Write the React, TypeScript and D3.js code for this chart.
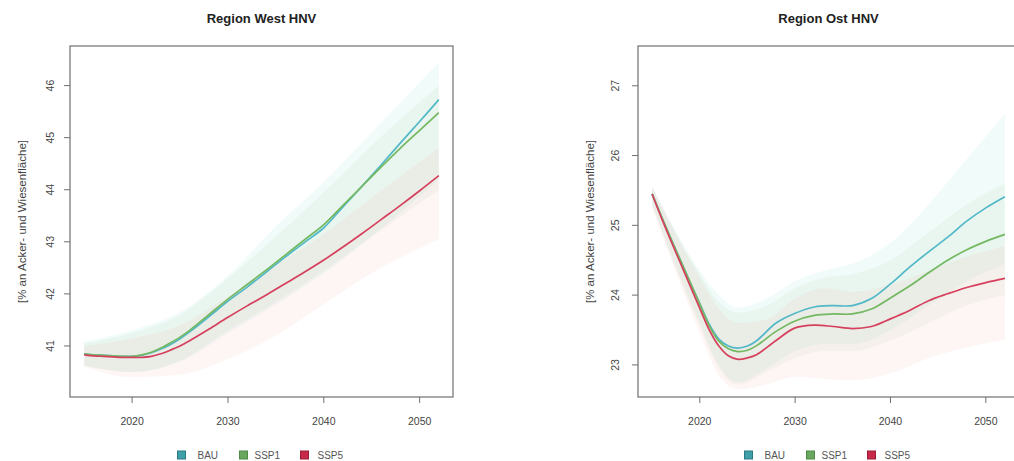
import React from "react";
import * as d3 from "d3";

// Years at which the scenario means are given
const years = [2015, 2016, 2017, 2018, 2019, 2020, 2021, 2022, 2023, 2024, 2025, 2026, 2028, 2030, 2032, 2034, 2036, 2038, 2040, 2042, 2044, 2046, 2048, 2050, 2052];

// Region West – mean share [%]
const westBAU = [40.85, 40.83, 40.82, 40.81, 40.8, 40.8, 40.82, 40.87, 40.94, 41.03, 41.14, 41.27, 41.56, 41.86, 42.13, 42.42, 42.71, 42.99, 43.27, 43.67, 44.07, 44.48, 44.9, 45.31, 45.73];
const westSSP1 = [40.85, 40.83, 40.82, 40.81, 40.8, 40.8, 40.83, 40.88, 40.96, 41.06, 41.17, 41.3, 41.6, 41.9, 42.18, 42.46, 42.75, 43.04, 43.33, 43.7, 44.07, 44.44, 44.8, 45.14, 45.48];
const westSSP5 = [40.83, 40.81, 40.8, 40.79, 40.78, 40.78, 40.78, 40.8, 40.85, 40.92, 41.0, 41.1, 41.32, 41.55, 41.77, 41.98, 42.2, 42.42, 42.65, 42.9, 43.16, 43.43, 43.7, 43.98, 44.27];

// Region Ost – mean share [%]
const ostBAU = [25.45, 25.12, 24.8, 24.49, 24.18, 23.88, 23.58, 23.37, 23.27, 23.24, 23.27, 23.35, 23.6, 23.74, 23.83, 23.85, 23.85, 23.95, 24.16, 24.4, 24.62, 24.83, 25.06, 25.25, 25.41];
const ostSSP1 = [25.45, 25.12, 24.8, 24.49, 24.18, 23.87, 23.56, 23.34, 23.23, 23.19, 23.21, 23.28, 23.48, 23.63, 23.71, 23.73, 23.73, 23.8, 23.96, 24.13, 24.32, 24.5, 24.65, 24.77, 24.87];
const ostSSP5 = [25.45, 25.1, 24.77, 24.45, 24.13, 23.81, 23.5, 23.27, 23.13, 23.08, 23.1, 23.15, 23.35, 23.53, 23.57, 23.55, 23.52, 23.55, 23.66, 23.78, 23.92, 24.02, 24.11, 24.18, 24.24];

// Uncertainty bands, Region West
const westBandYears = [2015, 2020, 2025, 2030, 2035, 2040, 2045, 2052];
const westBAULow = [40.62, 40.5, 40.7, 41.25, 41.8, 42.4, 43.1, 44.2];
const westBAUHigh = [41.08, 41.3, 41.65, 42.35, 43.3, 44.15, 45.1, 46.45];
const westSSP1Low = [40.62, 40.5, 40.72, 41.3, 41.85, 42.45, 43.1, 44.0];
const westSSP1High = [41.05, 41.25, 41.6, 42.3, 43.1, 43.95, 44.85, 46.0];
const westSSP5Low = [40.6, 40.4, 40.45, 40.75, 41.2, 41.8, 42.4, 43.05];
const westSSP5High = [41.0, 41.15, 41.4, 41.95, 42.55, 43.15, 43.85, 44.8];

// Uncertainty bands, Region Ost
const ostBandYears = [2015, 2018, 2020, 2022, 2024, 2027, 2030, 2033, 2036, 2040, 2044, 2048, 2052];
const ostBAULow = [25.3, 24.25, 23.6, 23.0, 22.75, 22.95, 23.2, 23.3, 23.3, 23.5, 23.85, 24.2, 24.45];
const ostBAUHigh = [25.55, 24.8, 24.35, 24.0, 23.82, 23.95, 24.2, 24.35, 24.45, 24.75, 25.3, 25.95, 26.6];
const ostSSP1Low = [25.3, 24.2, 23.55, 22.95, 22.72, 22.9, 23.1, 23.2, 23.2, 23.35, 23.6, 23.85, 24.0];
const ostSSP1High = [25.55, 24.75, 24.3, 23.9, 23.75, 23.85, 24.1, 24.25, 24.3, 24.5, 24.9, 25.3, 25.6];
const ostSSP5Low = [25.25, 24.15, 23.45, 22.85, 22.65, 22.72, 22.83, 22.8, 22.78, 22.88, 23.1, 23.25, 23.36];
const ostSSP5High = [25.55, 24.75, 24.25, 23.8, 23.6, 23.65, 23.95, 24.1, 24.05, 24.15, 24.35, 24.55, 24.7];

// Axis ticks
const xTicks = [2020, 2030, 2040, 2050];
const westYTicks = [41, 42, 43, 44, 45, 46];
const ostYTicks = [23, 24, 25, 26, 27];

const scenarios = ["BAU", "SSP1", "SSP5"];
const lineColors = ["#52b8c8", "#74b862", "#d6405e"];
const bandColors = ["#7fd8d2", "#a8d49a", "#f4a0a8"];
const keyFill = ["#3f9fa8", "#6aa860", "#c8284a"];
const keyStroke = ["#2c7a82", "#4e8a46", "#9a1c36"];

const yLabel = "[% an Acker- und Wiesenfläche]";
const font = "'Liberation Sans', Arial, sans-serif";

type Band = { years: number[]; low: number[]; high: number[] };

type PanelProps = {
  id: string;
  title: string;
  left: number;
  right: number;
  yDomain: [number, number];
  yTicks: number[];
  lines: number[][];
  bands: Band[];
  yLabelX: number;
  tickLabelX: number;
};

const TOP = 46;
const BOTTOM = 397;

function Panel(p: PanelProps) {
  const x = d3.scaleLinear().domain([2013.52, 2053.48]).range([p.left, p.right]);
  const y = d3.scaleLinear().domain(p.yDomain).range([BOTTOM, TOP]);
  const cx = (p.left + p.right) / 2;

  const lineGen = d3
    .line<[number, number]>()
    .x((d) => x(d[0]))
    .y((d) => y(d[1]))
    .curve(d3.curveCatmullRom.alpha(0.5));

  const areaGen = d3
    .area<[number, number, number]>()
    .x((d) => x(d[0]))
    .y0((d) => y(d[1]))
    .y1((d) => y(d[2]))
    .curve(d3.curveMonotoneX);

  const legendSquare = [-80, -18, 43];
  const legendText = [-64, -7, 56];

  return (
    <g>
      <defs>
        <clipPath id={`clip-${p.id}`}>
          <rect x={p.left} y={TOP} width={p.right - p.left} height={BOTTOM - TOP} />
        </clipPath>
      </defs>
      <text x={cx} y={23} textAnchor="middle" fontFamily={font} fontWeight="bold" fontSize={13} fill="#222">
        {p.title}
      </text>
      <g clipPath={`url(#clip-${p.id})`}>
        {p.bands.map((b, i) => (
          <path
            key={`b${i}`}
            d={areaGen(b.years.map((yr, k) => [yr, b.low[k], b.high[k]] as [number, number, number])) || ""}
            fill={bandColors[i]}
            fillOpacity={0.11}
            stroke="none"
          />
        ))}
        {p.lines.map((vals, i) => (
          <path
            key={`l${i}`}
            d={lineGen(years.map((yr, k) => [yr, vals[k]] as [number, number])) || ""}
            fill="none"
            stroke={lineColors[i]}
            strokeWidth={1.7}
          />
        ))}
      </g>
      <rect x={p.left} y={TOP} width={p.right - p.left} height={BOTTOM - TOP} fill="none" stroke="#707070" strokeWidth={1.2} />
      {xTicks.map((t) => (
        <g key={`x${t}`}>
          <line x1={x(t)} x2={x(t)} y1={BOTTOM} y2={BOTTOM + 6} stroke="#707070" />
          <text x={x(t)} y={425} textAnchor="middle" fontFamily={font} fontSize={10.5} fill="#444">
            {t}
          </text>
        </g>
      ))}
      {p.yTicks.map((t) => (
        <g key={`y${t}`}>
          <line x1={p.left - 6} x2={p.left} y1={y(t)} y2={y(t)} stroke="#707070" />
          <text
            transform={`translate(${p.tickLabelX},${y(t)}) rotate(-90)`}
            textAnchor="middle"
            dy="0.35em"
            fontFamily={font}
            fontSize={10.5}
            fill="#444"
          >
            {t}
          </text>
        </g>
      ))}
      <text
        transform={`translate(${p.yLabelX},${(TOP + BOTTOM) / 2}) rotate(-90)`}
        textAnchor="middle"
        dy="0.35em"
        fontFamily={font}
        fontSize={11.5}
        fill="#444"
      >
        {yLabel}
      </text>
      {scenarios.map((s, i) => (
        <g key={s}>
          <rect
            x={cx + legendSquare[i] - 4}
            y={451}
            width={8}
            height={8}
            fill={keyFill[i]}
            stroke={keyStroke[i]}
            strokeWidth={1}
          />
          <text x={cx + legendText[i]} y={459} fontFamily={font} fontSize={10} fill="#555">
            {s}
          </text>
        </g>
      ))}
    </g>
  );
}

export default function App() {
  const westBands: Band[] = [
    { years: westBandYears, low: westBAULow, high: westBAUHigh },
    { years: westBandYears, low: westSSP1Low, high: westSSP1High },
    { years: westBandYears, low: westSSP5Low, high: westSSP5High },
  ];
  const ostBands: Band[] = [
    { years: ostBandYears, low: ostBAULow, high: ostBAUHigh },
    { years: ostBandYears, low: ostSSP1Low, high: ostSSP1High },
    { years: ostBandYears, low: ostSSP5Low, high: ostSSP5High },
  ];
  return (
    <svg
      width={1014}
      height={461}
      style={{ position: "absolute", left: 0, top: 0, background: "#fff" }}
    >
      <rect x={0} y={0} width={1014} height={461} fill="#fff" />
      <Panel
        id="west"
        title="Region West HNV"
        left={70}
        right={453}
        yDomain={[40.02, 46.76]}
        yTicks={westYTicks}
        lines={[westBAU, westSSP1, westSSP5]}
        bands={westBands}
        yLabelX={22}
        tickLabelX={50}
      />
      <Panel
        id="ost"
        title="Region Ost HNV"
        left={638}
        right={1019}
        yDomain={[22.54, 27.57]}
        yTicks={ostYTicks}
        lines={[ostBAU, ostSSP1, ostSSP5]}
        bands={ostBands}
        yLabelX={590}
        tickLabelX={615}
      />
    </svg>
  );
}
